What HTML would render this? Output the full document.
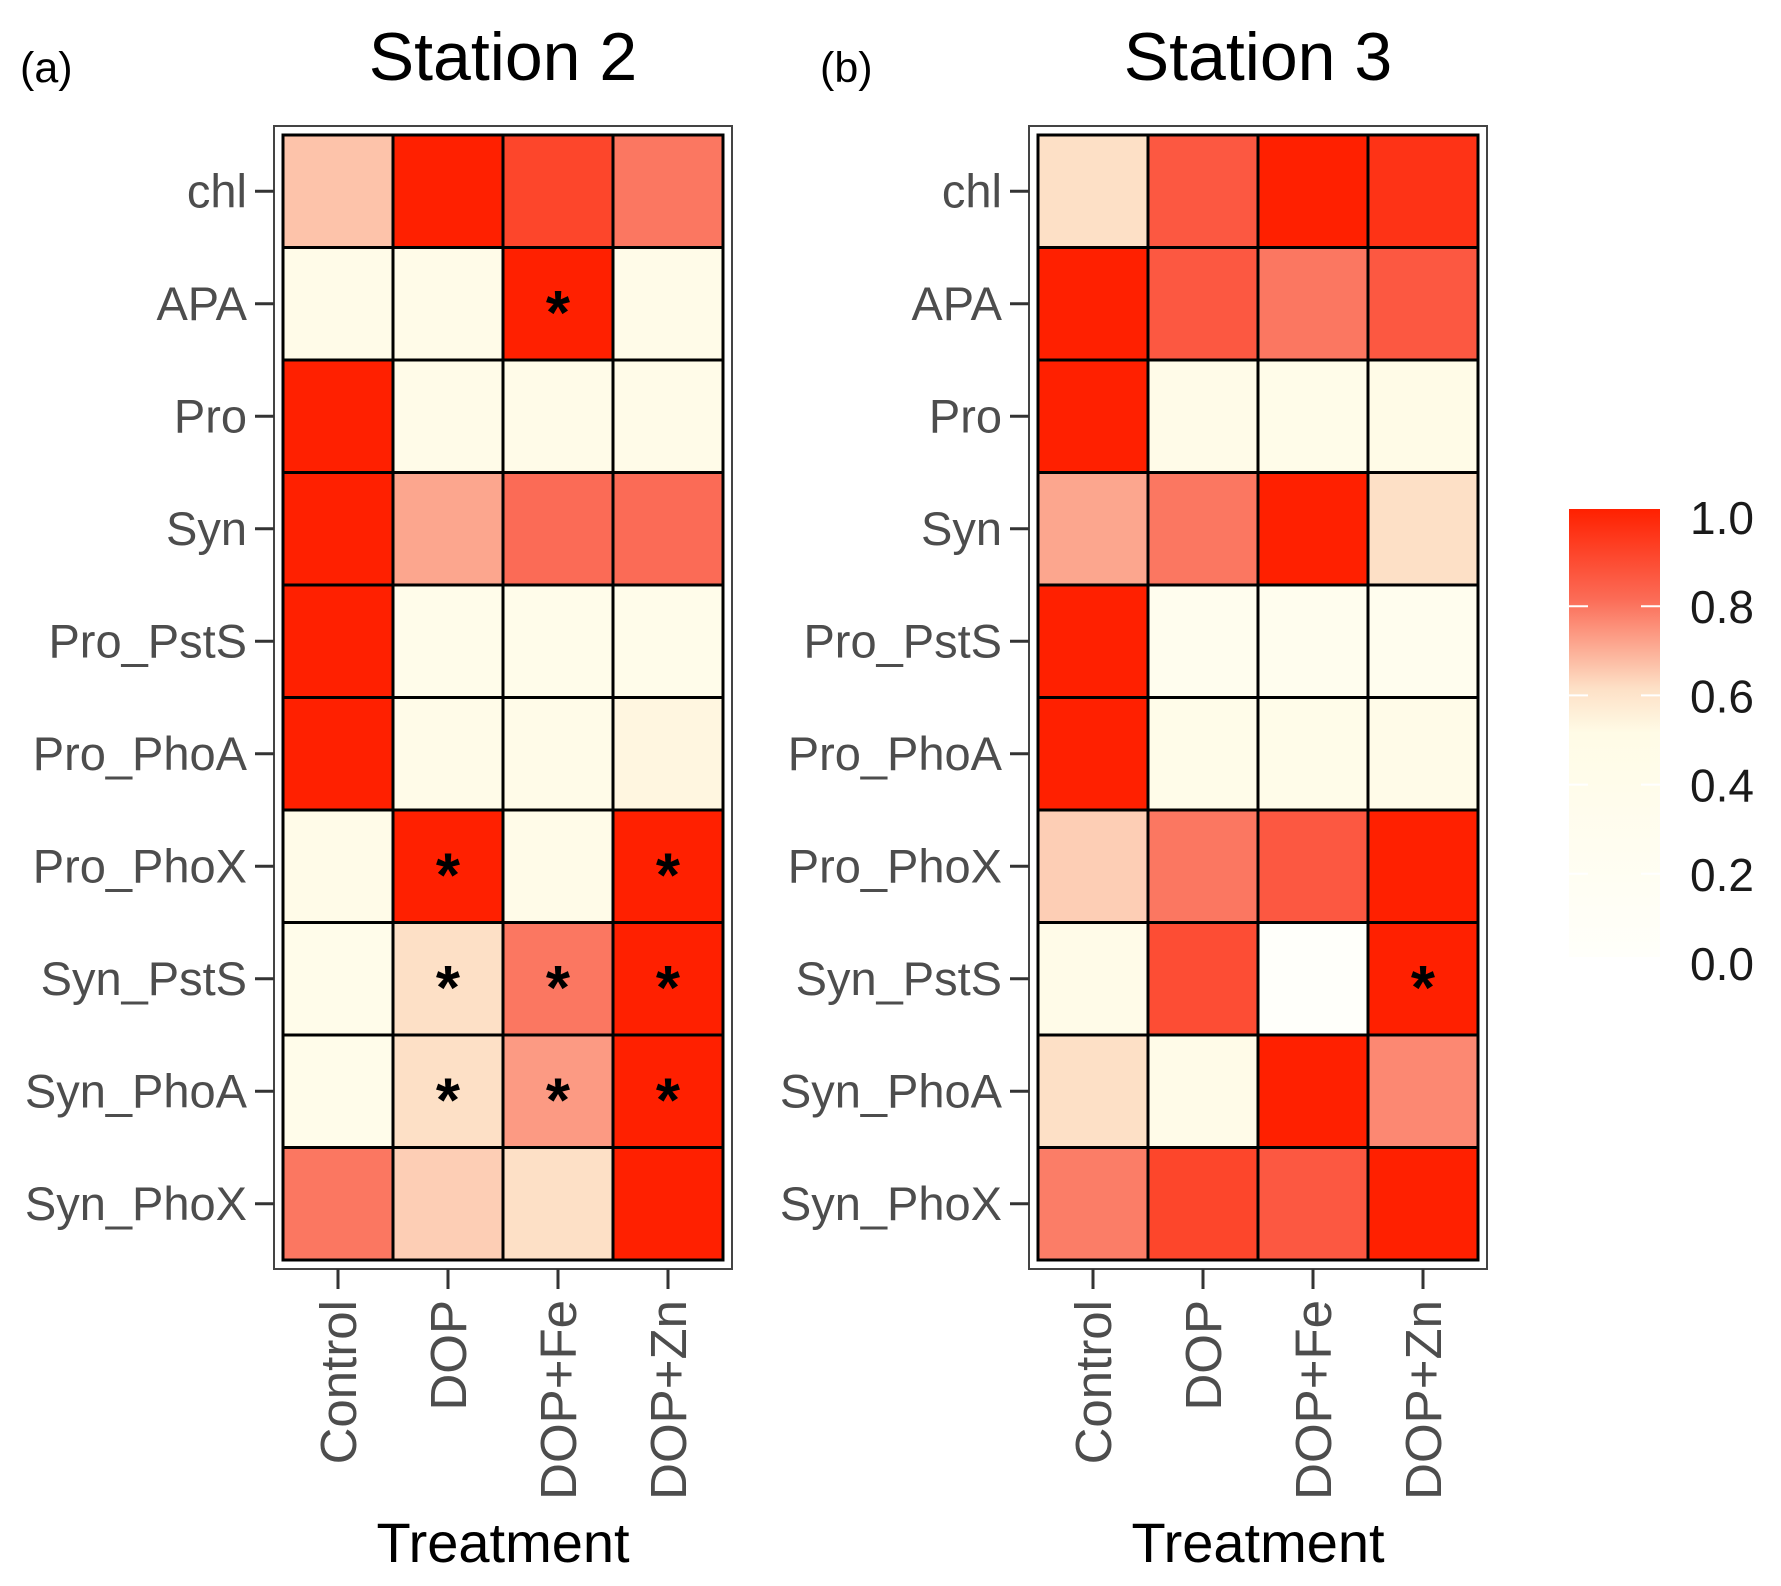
<!DOCTYPE html>
<html><head><meta charset="utf-8"><style>
html,body{margin:0;padding:0;background:#fff;}
svg{display:block;font-family:"Liberation Sans",Arial,sans-serif;}
</style></head><body>
<svg id="chart" width="1781" height="1586" viewBox="0 0 1781 1586">
<defs>
<linearGradient id="cbar" x1="0" y1="1" x2="0" y2="0">
<stop offset="0" stop-color="#fffffa"/><stop offset="0.5" stop-color="#fffbe6"/>
<stop offset="0.6" stop-color="#fde0c6"/><stop offset="0.8" stop-color="#fb6b56"/>
<stop offset="1" stop-color="#ff2000"/>
</linearGradient>
</defs>
</svg>
<script>
const rows=["chl","APA","Pro","Syn","Pro_PstS","Pro_PhoA","Pro_PhoX","Syn_PstS","Syn_PhoA","Syn_PhoX"];
const cols=["Control","DOP","DOP+Fe","DOP+Zn"];
const station2=[[0.65,1.0,0.9,0.78],[0.45,0.45,1.0,0.45],[1.0,0.45,0.45,0.45],[1.0,0.7,0.8,0.8],[1.0,0.4,0.4,0.4],[1.0,0.45,0.45,0.52],[0.45,1.0,0.45,1.0],[0.4,0.6,0.78,1.0],[0.4,0.6,0.72,1.0],[0.78,0.63,0.6,1.0]];
const station3=[[0.6,0.85,1.0,0.95],[1.0,0.85,0.78,0.85],[1.0,0.45,0.42,0.47],[0.7,0.78,1.0,0.6],[1.0,0.3,0.3,0.3],[1.0,0.42,0.42,0.45],[0.63,0.78,0.85,1.0],[0.45,0.88,0.0,1.0],[0.6,0.45,1.0,0.75],[0.77,0.9,0.85,1.0]];
const stars2=[[1,2],[6,1],[6,3],[7,1],[7,2],[7,3],[8,1],[8,2],[8,3]];
const stars3=[[7,3]];
const legendTicks=[0.0,0.2,0.4,0.6,0.8,1.0];
const svg=document.getElementById('chart');
const NS="http://www.w3.org/2000/svg";
function mk(t,a,txt){const e=document.createElementNS(NS,t);for(const k in a)e.setAttribute(k,a[k]);if(txt!=null)e.textContent=txt;svg.appendChild(e);return e;}
const stops=[[0,[255,255,250]],[0.5,[255,251,230]],[0.6,[253,224,198]],[0.8,[251,107,86]],[1,[255,32,0]]];
function color(v){for(let i=1;i<stops.length;i++){if(v<=stops[i][0]){const a=stops[i-1],b=stops[i];const t=(v-a[0])/(b[0]-a[0]);const c=a[1].map((x,j)=>Math.round(x+(b[1][j]-x)*t));return `rgb(${c})`;}}return "rgb(255,32,0)";}
const TOP=135,BOT=1260,CW=110;
const RH=(BOT-TOP)/rows.length;
function yPos(i){return TOP+i*RH;}
function panel(x0,data,stars,title,tag,id){
  const xPos=j=>x0+j*CW;
  const W=CW*cols.length;
  let e=mk('rect',{x:x0-9,y:TOP-9,width:W+18,height:BOT-TOP+18,fill:'#fff',stroke:'#444','stroke-width':2});
  
  data.forEach((r,i)=>r.forEach((v,j)=>{
    const c=mk('rect',{x:xPos(j),y:yPos(i),width:CW,height:RH,fill:color(v),stroke:'#000','stroke-width':3});
    
    
  }));
  stars.forEach(([i,j])=>{
    const s=mk('text',{x:xPos(j)+CW/2,y:yPos(i)+RH/2+30,'text-anchor':'middle','font-size':62,'font-weight':'bold',fill:'#000'},'*');
    
    
  });
  rows.forEach((r,i)=>{
    const cy=yPos(i)+RH/2;
    const l=mk('line',{x1:x0-28,x2:x0-9,y1:cy,y2:cy,stroke:'#333','stroke-width':3});
    
    const t=mk('text',{x:x0-36,y:cy+16,'text-anchor':'end','font-size':47,fill:'#4d4d4d'},r);
    
  });
  cols.forEach((c,j)=>{
    const cx=xPos(j)+CW/2;
    const l=mk('line',{x1:cx,x2:cx,y1:BOT+9,y2:BOT+29,stroke:'#333','stroke-width':3});
    
    const t=mk('text',{x:0,y:0,transform:`translate(${cx+18},${BOT+40}) rotate(-90)`,'text-anchor':'end','font-size':51,fill:'#4d4d4d'},c);
    
  });
  const cx=x0+W/2;
  let t=mk('text',{x:cx,y:80,'text-anchor':'middle','font-size':68,fill:'#000'},title);
  
  t=mk('text',{x:cx,y:1562,'text-anchor':'middle','font-size':56,fill:'#000'},'Treatment');
  
  t=mk('text',{x:tag[1],y:82,'font-size':43,fill:'#000'},tag[0]);
  
}
panel(283,station2,stars2,'Station 2',['(a)',20],'station2');
panel(1038,station3,stars3,'Station 3',['(b)',820],'station3');
// legend
const LT=509,LB=957;
let bar=mk('rect',{x:1569,y:LT,width:91,height:LB-LT,fill:'url(#cbar)'});

const lab=v=>963-(v)*(963-517);
legendTicks.forEach(v=>{
  const t=mk('text',{x:1690,y:lab(v)+17,'font-size':46,fill:'#1a1a1a'},v.toFixed(1));
  
  if(v>0&&v<1){
    const a=mk('line',{x1:1569,x2:1588,y1:lab(v),y2:lab(v),stroke:'#fff','stroke-width':2});
    
    const b=mk('line',{x1:1641,x2:1660,y1:lab(v),y2:lab(v),stroke:'#fff','stroke-width':2});
    
  }
});
</script>
</body></html>
